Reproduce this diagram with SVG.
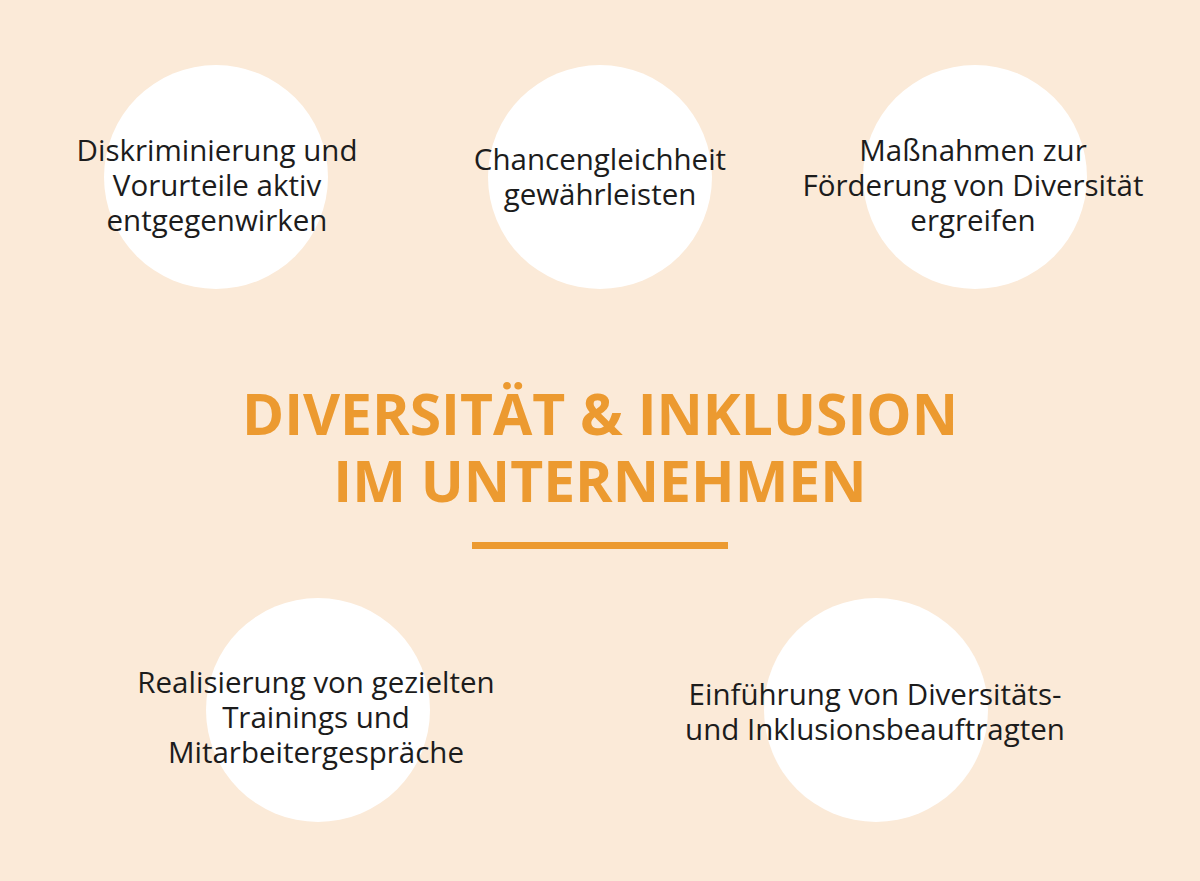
<svg xmlns="http://www.w3.org/2000/svg" width="1200" height="881" viewBox="0 0 1200 881">
<style>
.bg{fill:#FBEAD8}
.c{fill:#FFFFFF}
.t{font-family:"Open Sans","Liberation Sans",sans-serif;font-size:29.5px;fill:#1C1C1C;text-anchor:middle;font-weight:500}
.h{font-family:"Open Sans","Liberation Sans",sans-serif;font-size:57px;fill:#EC9A30;text-anchor:middle;font-weight:700}
</style>
<rect class="bg" x="0" y="0" width="1200" height="881"/>
<g id="n1">
<circle class="c" cx="216" cy="177" r="112"/>
<text class="t" x="217" y="161">Diskriminierung und</text>
<text class="t" x="217" y="196">Vorurteile aktiv</text>
<text class="t" x="217" y="231">entgegenwirken</text>
</g>
<g id="n2">
<circle class="c" cx="600" cy="177" r="112"/>
<text class="t" x="600" y="170">Chancengleichheit</text>
<text class="t" x="600" y="205">gewährleisten</text>
</g>
<g id="n3">
<circle class="c" cx="975" cy="177" r="112"/>
<text class="t" x="973" y="161">Maßnahmen zur</text>
<text class="t" x="973" y="196">Förderung von Diversität</text>
<text class="t" x="973" y="231">ergreifen</text>
</g>
<g id="title">
<text class="h" x="600" y="435">DIVERSITÄT &amp; INKLUSION</text>
<text class="h" x="600" y="502">IM UNTERNEHMEN</text>
<rect x="472" y="542" width="256" height="7" fill="#EC9A30"/>
</g>
<g id="n4">
<circle class="c" cx="318" cy="710" r="112"/>
<text class="t" x="316" y="693">Realisierung von gezielten</text>
<text class="t" x="316" y="728">Trainings und</text>
<text class="t" x="316" y="763">Mitarbeitergespräche</text>
</g>
<g id="n5">
<circle class="c" cx="876" cy="710" r="112"/>
<text class="t" x="875" y="705">Einführung von Diversitäts-</text>
<text class="t" x="875" y="740">und Inklusionsbeauftragten</text>
</g>
<g id="connectors"></g>
</svg>
